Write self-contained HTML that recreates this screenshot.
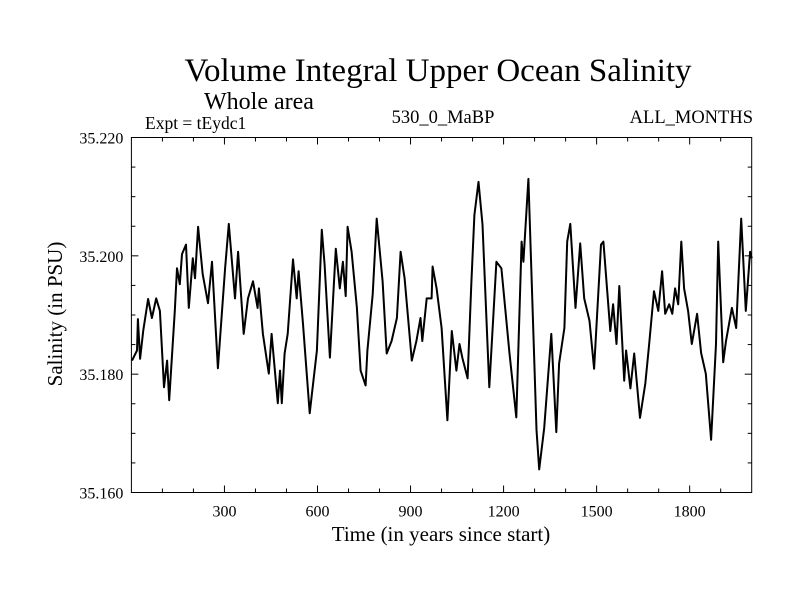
<!DOCTYPE html>
<html><head><meta charset="utf-8"><style>
html,body{margin:0;padding:0;background:#fff;}
svg{display:block;font-family:"Liberation Serif",serif;}
</style></head><body>
<svg id="chart" width="800" height="600" viewBox="0 0 800 600" xmlns="http://www.w3.org/2000/svg">
<rect x="0" y="0" width="800" height="600" fill="#fff"/>
<text x="438" y="81" font-size="33" text-anchor="middle">Volume Integral Upper Ocean Salinity</text>
<text x="204" y="109" font-size="24">Whole area</text>
<text x="145" y="129" font-size="17.5">Expt = tEydc1</text>
<text x="443" y="123" font-size="18.5" text-anchor="middle">530_0_MaBP</text>
<text x="753" y="123" font-size="18.5" text-anchor="end">ALL_MONTHS</text>
<text x="441" y="541" font-size="21" text-anchor="middle">Time (in years since start)</text>
<text transform="translate(62,314) rotate(-90)" font-size="21" text-anchor="middle">Salinity (in PSU)</text>
<g id="axes"></g>
<g id="series"></g>
</svg>
<script>
const years = [2,18,21,28,38,54,66,80,92,105,115,122,140,147,156,163,176,185,198,205,215,230,247,260,279,302,314,334,344,362,376,392,407,411,424,443,452,472,479,485,494,504,521,533,539,553,575,598,614,623,640,659,672,682,691,697,710,727,739,755,761,778,791,810,823,839,856,868,881,904,919,932,938,952,968,971,984,1000,1019,1033,1048,1058,1067,1084,1096,1106,1119,1132,1154,1177,1193,1219,1241,1258,1264,1280,1306,1315,1331,1354,1370,1379,1396,1405,1415,1432,1447,1460,1477,1492,1514,1522,1544,1553,1564,1573,1589,1595,1609,1621,1640,1657,1669,1685,1699,1711,1721,1734,1744,1753,1763,1773,1782,1795,1807,1824,1837,1852,1869,1885,1892,1908,1917,1936,1950,1966,1981,1995,2000];
const salinity = [35.1823,35.1840,35.1893,35.1826,35.1873,35.1927,35.1895,35.1928,35.1907,35.1778,35.1823,35.1756,35.1907,35.1979,35.1952,35.2003,35.2019,35.1912,35.1996,35.1962,35.2049,35.1969,35.1920,35.1990,35.1810,35.1979,35.2054,35.1928,35.2007,35.1868,35.1928,35.1957,35.1912,35.1945,35.1868,35.1801,35.1868,35.1751,35.1806,35.1751,35.1835,35.1868,35.1994,35.1928,35.1974,35.1887,35.1734,35.1840,35.2044,35.1985,35.1828,35.2012,35.1945,35.1990,35.1932,35.2049,35.2007,35.1912,35.1806,35.1781,35.1840,35.1935,35.2063,35.1957,35.1835,35.1856,35.1895,35.2007,35.1962,35.1823,35.1856,35.1895,35.1856,35.1928,35.1928,35.1982,35.1945,35.1878,35.1722,35.1873,35.1806,35.1851,35.1828,35.1793,35.1952,35.2069,35.2125,35.2053,35.1778,35.1990,35.1979,35.1835,35.1727,35.2024,35.1990,35.2130,35.1706,35.1639,35.1709,35.1868,35.1702,35.1818,35.1878,35.2024,35.2054,35.1912,35.2021,35.1928,35.1890,35.1809,35.2019,35.2024,35.1873,35.1918,35.1851,35.1949,35.1789,35.1840,35.1776,35.1835,35.1726,35.1784,35.1848,35.1940,35.1907,35.1974,35.1902,35.1918,35.1902,35.1945,35.1918,35.2024,35.1945,35.1907,35.1851,35.1902,35.1836,35.1801,35.1689,35.1851,35.2024,35.1820,35.1856,35.1912,35.1878,35.2063,35.1907,35.2007,35.1996];
const xTickLabels = [300,600,900,1200,1500,1800];
const yTickLabels = ["35.160","35.180","35.200","35.220"];

const NS = "http://www.w3.org/2000/svg";
const L = 131.4, R = 751.7, T = 137.5, B = 492.5;
const X0 = 0, X1 = 2000, Y0 = 35.16, Y1 = 35.22;
function xs(v){ return L + (v - X0) / (X1 - X0) * (R - L); }
function ys(v){ return B - (v - Y0) / (Y1 - Y0) * (B - T); }
function mk(tag, attrs, parent){
  const e = document.createElementNS(NS, tag);
  for (const k in attrs) e.setAttribute(k, attrs[k]);
  parent.appendChild(e);
  return e;
}
const axes = document.getElementById('axes');
const frame = mk('rect', {x:L, y:T, width:R-L, height:B-T, fill:'none', stroke:'#000', 'stroke-width':1}, axes);


for (let v = 100; v < X1; v += 100){
  const major = v % 300 === 0;
  const len = major ? 7 : 4;
  const x = xs(v);
  const t1 = mk('line', {x1:x, x2:x, y1:B, y2:B-len, stroke:'#000', 'stroke-width':1}, axes);
  
  
  const t2 = mk('line', {x1:x, x2:x, y1:T, y2:T+len, stroke:'#000', 'stroke-width':1}, axes);
  
  
}
xTickLabels.forEach(v => {
  const t = mk('text', {x:xs(v), y:B+24, 'font-size':16, 'text-anchor':'middle'}, axes);
  t.textContent = v;
  
  
});
for (let i = 1; i < 12; i++){
  const v = Y0 + i * 0.005;
  const major = i % 4 === 0;
  const len = major ? 7 : 4;
  const y = ys(v);
  const t1 = mk('line', {x1:L, x2:L+len, y1:y, y2:y, stroke:'#000', 'stroke-width':1}, axes);
  
  
  const t2 = mk('line', {x1:R, x2:R-len, y1:y, y2:y, stroke:'#000', 'stroke-width':1}, axes);
  
  
}
yTickLabels.forEach(s => {
  const t = mk('text', {x:L-8, y:ys(parseFloat(s))+6, 'font-size':16, 'text-anchor':'end'}, axes);
  t.textContent = s;
  
  
});
const pts = years.map((yr, i) => xs(yr).toFixed(1) + ',' + ys(salinity[i]).toFixed(1)).join(' ');
const line = mk('polyline', {points:pts, fill:'none', stroke:'#000', 'stroke-width':2, 'stroke-linejoin':'round'}, document.getElementById('series'));


</script>
</body></html>
